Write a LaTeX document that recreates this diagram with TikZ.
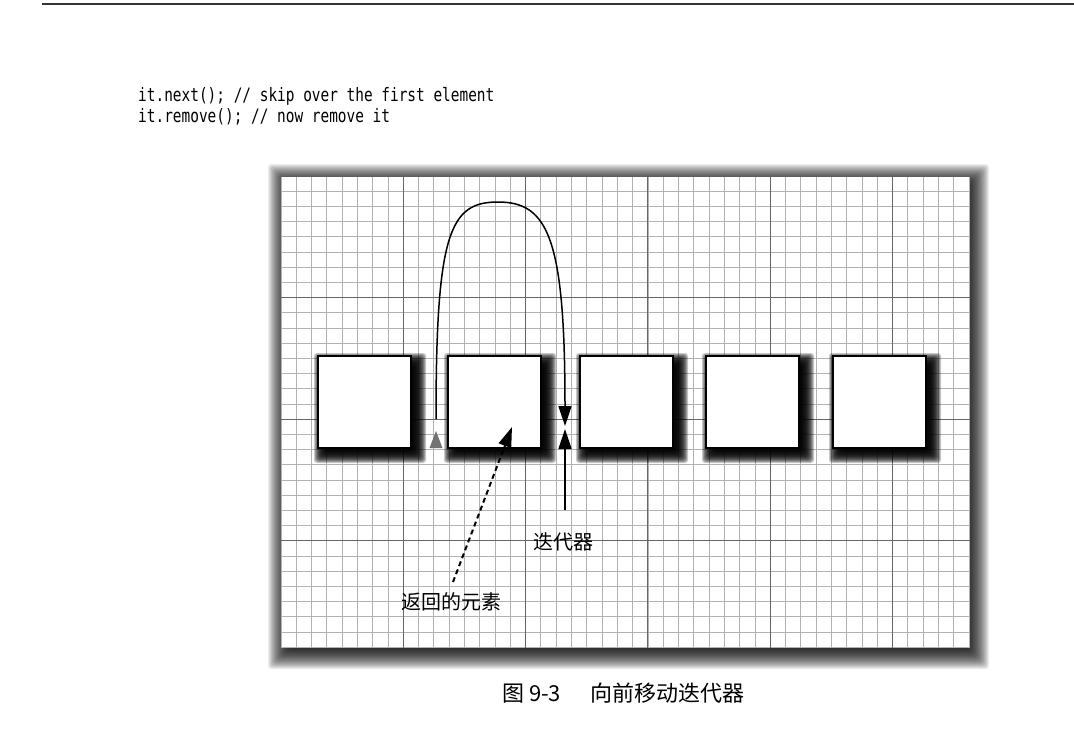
\documentclass[tikz,border=0pt]{standalone}
\usepackage{fontspec}
\newfontfamily\cjk{Noto Sans CJK SC}
\newfontfamily\codefont[FakeStretch=0.78]{DejaVu Sans Mono}
\usetikzlibrary{arrows.meta}
\newcommand{\softshadow}[6]{% x1 y1 x2 y2 radius opacity
  \foreach \d in {-#5,...,#5}{%
    \fill[black,opacity=#6,rounded corners=3] ({#1-\d},{#2-\d}) rectangle ({#3+\d},{#4+\d});
  }%
}
\tikzset{
  minorline/.style={draw=black!30, line width=0.9},
  majorline/.style={draw=black!60, line width=1.1},
  cell/.style={draw=black, line width=2, fill=white, minimum width=93, minimum height=92, inner sep=0},
  tipline/.style={line width=1.5, -{Triangle[length=20,width=13]}},
  lab/.style={font=\cjk\fontsize{20}{24}\selectfont, inner sep=0},
  codeline/.style={font=\codefont\fontsize{18.5}{22}\selectfont, inner sep=0, anchor=base west},
}
\begin{document}
\begin{tikzpicture}[x=1pt,y=-1pt]
\useasboundingbox (0,0) rectangle (1074,739);
\fill[white] (0,0) rectangle (1074,739);
% top rule
\draw[black!80, line width=2.5] (42,4) -- (1074,4);
% code lines
\node[codeline] (code1) at (138,101) {it.next(); // skip over the first element};
\node[codeline] (code2) at (138,122) {it.remove(); // now remove it};
% panel shadow and panel
\softshadow{282}{178}{975}{655}{14}{0.07}
\fill[white] (281,177) rectangle (970,648);
\begin{scope}
  \clip (281,177) rectangle (970,648);
  \foreach \i in {0,...,46} \draw[minorline] ({281+\i*15.29},177) -- ({281+\i*15.29},648);
  \foreach \j in {0,...,31} \draw[minorline] (281,{176+\j*15.2}) -- (970,{176+\j*15.2});
  \foreach \i in {1,...,5} \draw[majorline] ({281+\i*122.3},177) -- ({281+\i*122.3},648);
  \foreach \j in {1,...,3} \draw[majorline] (281,{176+\j*121.6}) -- (970,{176+\j*121.6});
\end{scope}
% box shadows
\foreach \xl in {317,447,579,705,832}{
  \softshadow{\xl+3}{359}{\xl+103}{457}{6}{0.22}
}
% boxes
\node[cell] (b1) at (364,401.5) {};
\node[cell] (b2) at (494,401.5) {};
\node[cell] (b3) at (626,401.5) {};
\node[cell] (b4) at (752,401.5) {};
\node[cell] (b5) at (879,401.5) {};
% arc from previous position over element
\coordinate (arcstart) at (436,419);
\coordinate (apex) at (498,202);
\coordinate (arcend) at (565,426);
\draw[tipline] (arcstart) .. controls (436,232) and (450,202) .. (apex)
  .. controls (548,202) and (565,238) .. (arcend);
% faded old position arrowhead
\coordinate (oldtip) at (436,431);
\fill[black!55] (oldtip) -- ++(-6.5,17) -- ++(13,0) -- cycle;
% iterator
\coordinate (itstart) at (565,510);
\coordinate (ittip) at (565,429);
\draw[tipline] (itstart) -- (ittip);
\node[lab] (itlabel) at (563,542) {迭代器};
% returned element
\coordinate (retstart) at (453,582);
\coordinate (rettip) at (512,427);
\draw[line width=2, dash pattern=on 5 off 3.5, -{Triangle[length=20,width=13]}] (retstart) -- (rettip);
\node[lab] (retlabel) at (451,602) {返回的元素};
% caption
\node[font=\cjk\fontsize{22}{26}\selectfont, inner sep=0, anchor=base west] (cap1) at (502,701) {图 9-3};
\node[font=\cjk\fontsize{22}{26}\selectfont, inner sep=0, anchor=base west] (cap2) at (590,701) {向前移动迭代器};
\end{tikzpicture}
\end{document}
